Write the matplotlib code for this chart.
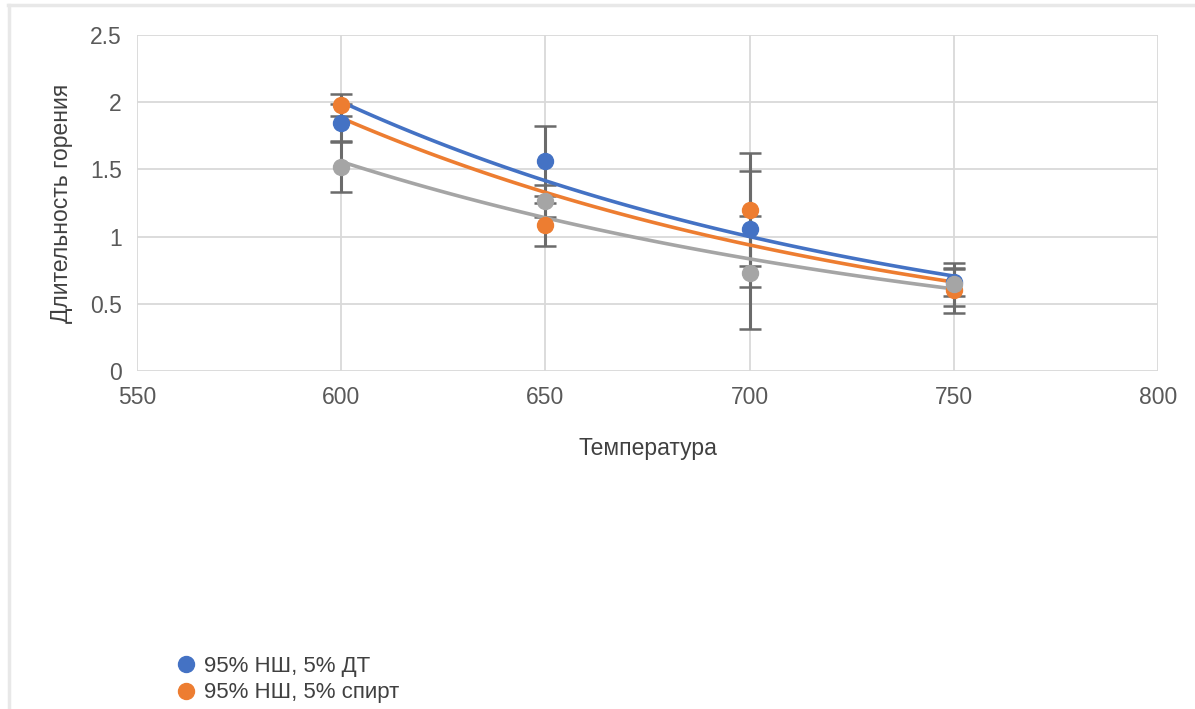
import numpy as np
import matplotlib
matplotlib.use("Agg")
import matplotlib.pyplot as plt
from matplotlib.lines import Line2D

plt.rcParams.update({
    "font.family": ["Liberation Sans", "DejaVu Sans"],
    "text.color": "#404040",
})

# данные
TEMPS = [600, 650, 700, 750]
DT = [1.845, 1.56, 1.055, 0.66]
DT_ERR = [0.14, 0.26, 0.43, 0.10]
SPIRT = [1.98, 1.09, 1.20, 0.60]
SPIRT_ERR = [0.08, 0.16, 0.42, 0.17]
GRAY = [1.52, 1.265, 0.73, 0.645]
GRAY_ERR = [0.19, 0.12, 0.42, 0.16]
LABELS = ["95% НШ, 5% ДТ", "95% НШ, 5% спирт", "100% НШ"]
COLORS = ["#4472C4", "#ED7D31", "#A5A5A5"]

W, H = 1195, 709
fig = plt.figure(figsize=(W / 100, H / 100), dpi=100)

# рамка скриншота
fig.add_artist(Line2D([8 / W, 1], [1 - 5 / H, 1 - 5 / H], color="#e8e8e8", lw=2.5))
fig.add_artist(Line2D([9 / W, 9 / W], [0, 1 - 5 / H], color="#e8e8e8", lw=2.5))

ax = fig.add_axes([137 / W, 1 - 371 / H, (1158 - 137) / W, (371 - 35) / H])

series = [(DT, DT_ERR), (SPIRT, SPIRT_ERR), (GRAY, GRAY_ERR)]
x = np.array(TEMPS, dtype=float)
xs = np.linspace(600, 750, 100)

# планки погрешностей
for ys, es in series:
    ax.errorbar(x, ys, yerr=es, fmt="none", ecolor="#6b6b6b", elinewidth=2.2,
                capsize=8, capthick=1.8, zorder=2)

# точки и экспоненциальные линии тренда
for (ys, es), c, lab in zip(series, COLORS, LABELS):
    ax.plot(x, ys, "o", color=c, ms=11.5, zorder=4, label=lab)
    k, b = np.polyfit(x, np.log(ys), 1)
    ax.plot(xs, np.exp(b + k * xs), color=c, lw=2.6, zorder=3)

ax.set_xlim(550, 800)
ax.set_ylim(0, 2.5)
ax.set_xticks([550, 600, 650, 700, 750, 800])
ax.set_yticks([0, 0.5, 1, 1.5, 2, 2.5])
ax.set_yticklabels(["0", "0.5", "1", "1.5", "2", "2.5"])
ax.grid(True, color="#d9d9d9", lw=1.3)
ax.set_axisbelow(True)
for s in ax.spines.values():
    s.set_visible(False)
ax.tick_params(length=0, labelsize=16.5, labelcolor="#595959", pad=11)

ax.set_xlabel("Температура", fontsize=16.5, color="#404040", labelpad=20)
ax.set_ylabel("Длительность горения", fontsize=16.5, color="#404040", labelpad=12)

# легенда у нижнего края кадра: видны только первые две записи
h, l = ax.get_legend_handles_labels()
fig.legend(h[:2], l[:2], loc="upper left", bbox_to_anchor=(160 / W, 1 - 647 / H),
           frameon=False, fontsize=16, handletextpad=0.1, labelspacing=0.25,
           markerscale=1.0, handlelength=1.5, borderaxespad=0)

fig.savefig("out.png", dpi=100)
